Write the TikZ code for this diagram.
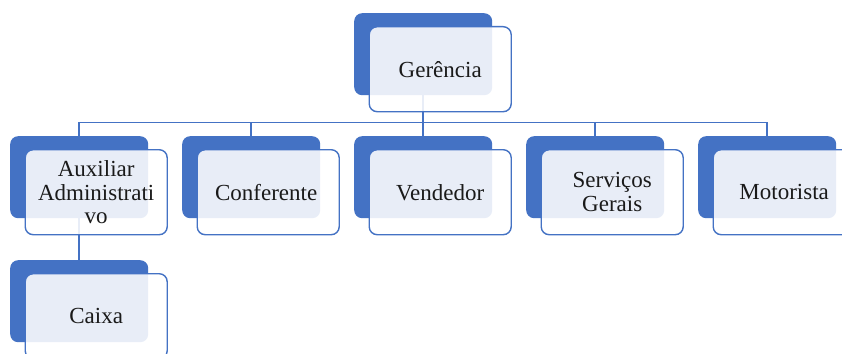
\documentclass[tikz,border=0pt]{standalone}
\usepackage{fontspec}
\setmainfont{Liberation Serif}
\newfontfamily\cardfont{Liberation Serif}
\definecolor{orgblue}{HTML}{4472C4}
\definecolor{orgtext}{HTML}{1A1A1A}
\begin{document}
\begin{tikzpicture}[x=1pt,y=-1pt,
  backbox/.style={rectangle, rounded corners=8pt, fill=orgblue, draw=none,
    minimum width=138pt, minimum height=82pt, inner sep=0pt, anchor=north west},
  frontbox/.style={rectangle, rounded corners=8pt, fill=white, fill opacity=0.88,
    draw=orgblue, line width=1.4pt, draw opacity=1, text opacity=1,
    minimum width=142pt, minimum height=85pt, inner sep=0pt, anchor=north west},
  cardtext/.style={text=orgtext, font=\cardfont\fontsize{23}{23.5}\selectfont, align=center},
  conn/.style={draw=orgblue, line width=1.6pt}]
\useasboundingbox (0,0) rectangle (842,353);
\clip (0,0) rectangle (842,353);
\fill[white] (0,0) rectangle (842,353);

% dark backing cards
\node[backbox] (bg) at (354,13) {};
\node[backbox] (b1) at (10,136) {};
\node[backbox] (b2) at (182,136) {};
\node[backbox] (b3) at (354,136) {};
\node[backbox] (b4) at (526,136) {};
\node[backbox] (b5) at (698,136) {};
\node[backbox] (b6) at (10,260) {};

% tree connectors
\foreach \c in {b1,b2,b3,b4,b5}
  \draw[conn] (bg.south) -- ++(0,27) -| (\c.north);
\draw[conn] (b1.south) -- (b6.north);

% translucent front cards
\node[frontbox] (fg) at (368.5,26) {};
\node[frontbox] (f1) at (24.5,149) {};
\node[frontbox] (f2) at (196.5,149) {};
\node[frontbox] (f3) at (368.5,149) {};
\node[frontbox] (f4) at (540.5,149) {};
\node[frontbox] (f5) at (712.5,149) {};
\node[frontbox] (f6) at (24.5,273) {};

% card texts
\node[cardtext] (tg) at (fg.center) {Gerência};
\node[cardtext] (t1) at (f1.center) {Auxiliar\\Administrati\\vo};
\node[cardtext] (t2) at ([xshift=-2pt]f2.center) {Conferente};
\node[cardtext] (t3) at (f3.center) {Vendedor};
\node[cardtext] (t4) at (f4.center) {Serviços\\Gerais};
\node[cardtext] (t5) at (f5.center) {Motorista};
\node[cardtext] (t6) at (f6.center) {Caixa};
\end{tikzpicture}
\end{document}
